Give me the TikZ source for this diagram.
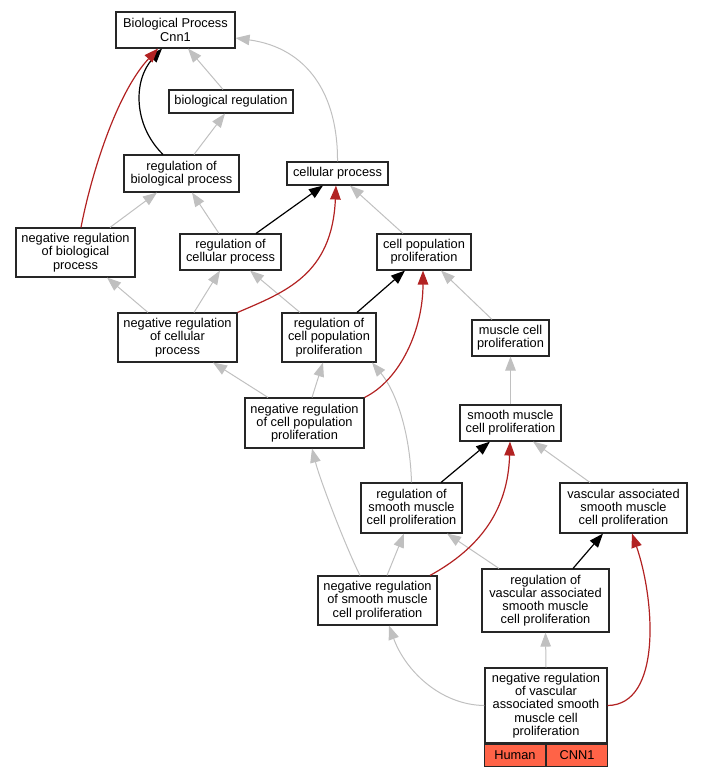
\documentclass[tikz,border=0pt]{standalone}
\usepackage{fontspec}
\setmainfont{Liberation Sans}
\usetikzlibrary{arrows.meta}
\definecolor{edgegray}{HTML}{C0C0C0}
\definecolor{edgered}{HTML}{B22222}
\definecolor{tomatofill}{HTML}{FF6347}
\begin{document}
\begin{tikzpicture}[x=1pt,y=-1pt,
  box/.style={draw=black!85,line width=1.1pt,fill=white,inner sep=0pt,align=center,
    font=\fontsize{12.8}{13.2}\selectfont},
  tip/.style={-{Triangle[length=14pt,width=10.5pt]}},
  gl/.style={tip,draw=edgegray,line width=1pt},
  bl/.style={tip,draw=black,line width=1.2pt},
  rl/.style={tip,draw=edgered,line width=1.2pt}]
\useasboundingbox (0,0) rectangle (701,776);
% nodes
\node[box,minimum width=119pt,minimum height=36pt] (bp) at (175.5,30) {Biological Process\\Cnn1};
\node[box,minimum width=124pt,minimum height=23pt] (breg) at (231,101.5) {biological regulation};
\node[box,minimum width=115pt,minimum height=37pt] (rbp) at (181.5,173.5) {regulation of\\biological process};
\node[box,minimum width=101pt,minimum height=23pt] (cp) at (337.5,173.5) {cellular process};
\node[box,minimum width=119pt,minimum height=49pt] (nrbp) at (75.5,252.5) {negative regulation\\of biological\\process};
\node[box,minimum width=101pt,minimum height=36pt] (rcp) at (230.5,252) {regulation of\\cellular process};
\node[box,minimum width=94pt,minimum height=36pt] (cpp) at (424,252) {cell population\\proliferation};
\node[box,minimum width=119pt,minimum height=49pt] (nrcp) at (177.5,337.5) {negative regulation\\of cellular\\process};
\node[box,minimum width=94pt,minimum height=49pt] (rcpp) at (329,337.5) {regulation of\\cell population\\proliferation};
\node[box,minimum width=77pt,minimum height=36pt] (mcp) at (510.5,338) {muscle cell\\proliferation};
\node[box,minimum width=119pt,minimum height=50pt] (nrcpp) at (304.5,423) {negative regulation\\of cell population\\proliferation};
\node[box,minimum width=101pt,minimum height=36pt] (smcp) at (510.5,423) {smooth muscle\\cell proliferation};
\node[box,minimum width=101pt,minimum height=50pt] (rsmcp) at (411.5,508) {regulation of\\smooth muscle\\cell proliferation};
\node[box,minimum width=127pt,minimum height=50pt] (vsmcp) at (623.5,508) {vascular associated\\smooth muscle\\cell proliferation};
\node[box,minimum width=119pt,minimum height=49pt] (nrsmcp) at (377.5,600.5) {negative regulation\\of smooth muscle\\cell proliferation};
\node[box,minimum width=127pt,minimum height=63pt] (rvsmcp) at (545.5,600.5) {regulation of\\vascular associated\\smooth muscle\\cell proliferation};
\node[box,minimum width=122pt,minimum height=75pt] (nrvsmcp) at (546,705.5) {negative regulation\\of vascular\\associated smooth\\muscle cell\\proliferation};
\node[box,fill=tomatofill,minimum width=61pt,minimum height=22pt,anchor=north east] (human) at (nrvsmcp.south) {Human};
\node[box,fill=tomatofill,minimum width=61pt,minimum height=22pt,anchor=north west] (cnn) at (nrvsmcp.south) {CNN1};
% gray edges
\draw[gl] ([xshift=-8pt]breg.north) -- ([xshift=12.5pt]bp.south);
\draw[gl] (cp.north) .. controls (338,95) and (308,48) .. ([yshift=-8pt]bp.east);
\draw[gl] ([xshift=12.5pt]rbp.north) -- ([xshift=-6pt]breg.south);
\draw[gl] ([xshift=34.5pt]nrbp.north) -- ([xshift=-24.5pt]rbp.south);
\draw[gl] ([xshift=-11.5pt]rcp.north) -- ([xshift=10.5pt]rbp.south);
\draw[gl] ([xshift=-21pt]cpp.north) -- ([xshift=12.5pt]cp.south);
\draw[gl] ([xshift=-29.5pt]nrcp.north) -- ([xshift=31.5pt]nrbp.south);
\draw[gl] ([xshift=16.5pt]nrcp.north) -- ([xshift=-10.5pt]rcp.south);
\draw[gl] ([xshift=-29pt]rcpp.north) -- ([xshift=19.5pt]rcp.south);
\draw[gl] ([xshift=-18.5pt]mcp.north) -- ([xshift=17pt]cpp.south);
\draw[gl] ([xshift=-36.5pt]nrcpp.north) -- ([xshift=35.5pt]nrcp.south);
\draw[gl] ([xshift=7.5pt]nrcpp.north) -- ([xshift=-6pt]rcpp.south);
\draw[gl] (smcp.north) -- (mcp.south);
\draw[gl] (rsmcp.north) .. controls (410,430) and (395,390) .. ([xshift=43pt]rcpp.south);
\draw[gl] ([xshift=-33.5pt]vsmcp.north) -- ([xshift=22.5pt]smcp.south);
\draw[gl] ([xshift=-17.5pt]nrsmcp.north) .. controls (345,545) and (320,480) .. ([xshift=7.5pt]nrcpp.south);
\draw[gl] ([xshift=9.5pt]nrsmcp.north) -- ([xshift=-7.5pt]rsmcp.south);
\draw[gl] ([xshift=-46.5pt]rvsmcp.north) -- ([xshift=35.5pt]rsmcp.south);
\draw[gl] (nrvsmcp.west) .. controls (440,705) and (405,670) .. ([xshift=11.5pt]nrsmcp.south);
\draw[gl] (nrvsmcp.north) -- (rvsmcp.south);
% black edges
\draw[bl] ([xshift=-18.5pt]rbp.north) .. controls (133,125) and (133,80) .. ([xshift=-13.5pt]bp.south);
\draw[bl] ([xshift=25.5pt]rcp.north) -- ([xshift=-14.5pt]cp.south);
\draw[bl] ([xshift=28pt]rcpp.north) -- ([xshift=-19pt]cpp.south);
\draw[bl] ([xshift=29.5pt]rsmcp.north) -- ([xshift=-20.5pt]smcp.south);
\draw[bl] ([xshift=27.5pt]rvsmcp.north) -- ([xshift=-20.5pt]vsmcp.south);
% red edges
\draw[rl] ([xshift=5.5pt]nrbp.north) .. controls (90,180) and (115,95) .. ([xshift=-17.5pt]bp.south);
\draw[rl] (nrcp.north east) .. controls (285,292) and (332,275) .. ([xshift=-1.5pt]cp.south);
\draw[rl] (nrcpp.north east) .. controls (400,380) and (423,330) .. ([xshift=-1pt]cpp.south);
\draw[rl] ([xshift=52.5pt]nrsmcp.north) .. controls (480,548) and (508,510) .. ([xshift=-0.5pt]smcp.south);
\draw[rl] (nrvsmcp.east) .. controls (662,705) and (655,600) .. ([xshift=8.5pt]vsmcp.south);
\end{tikzpicture}
\end{document}
